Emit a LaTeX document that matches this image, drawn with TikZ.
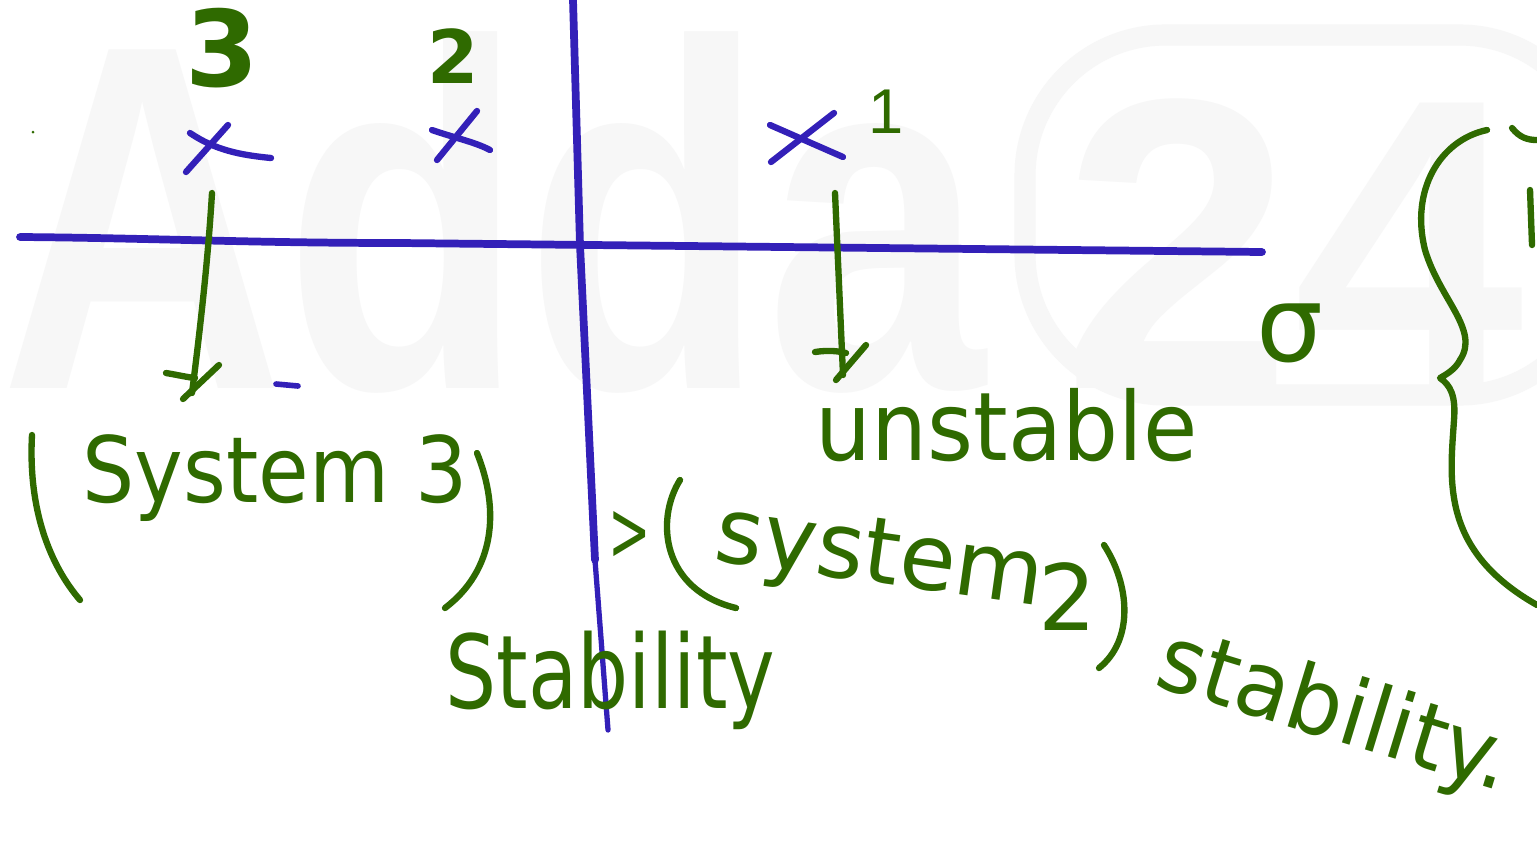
\documentclass[tikz,border=0pt]{standalone}
\usepackage{fontspec}
\setmainfont{DejaVu Sans}
\newfontfamily\wmfont{Liberation Sans}
\definecolor{ink}{HTML}{3320B8}
\definecolor{pen}{HTML}{2F6A00}
\begin{document}
\begin{tikzpicture}[x=0.01cm,y=-0.01cm,
  axisline/.style={draw=ink,line width=2.2pt,line cap=round,line join=round},
  bluestroke/.style={draw=ink,line width=1.8pt,line cap=round},
  greenstroke/.style={draw=pen,line width=1.8pt,line cap=round,line join=round},
  hand/.style={text=pen,inner sep=0pt,anchor=base west,font=\fontsize{26}{26}\selectfont},
  wm/.style={text=black!3,inner sep=0pt,font=\wmfont\bfseries\fontsize{140}{140}\selectfont}]
\useasboundingbox[fill=white] (0,0) rectangle (1537,854);
% watermark
\node[wm,xscale=0.8,anchor=base west] (wmA) at (0,388) {Adda};
\draw[black!3,line width=6pt,rounded corners=40pt] (1025,35) rectangle (1600,395);
\node[wm,anchor=base west,font=\wmfont\bfseries\fontsize{118}{118}\selectfont] (wm24) at (1062,388) {24};
% axes
\draw[axisline] (20,237) .. controls (150,238) and (250,243) .. (400,243) -- (1262,252);
\draw[axisline] (573,0) -- (580,245) -- (595,560);
\draw[draw=ink,line width=1.5pt,line cap=round] (595,560) -- (608,730);
% poles (crosses)
\draw[bluestroke] (186,172) -- (228,125);
\draw[bluestroke] (190,133) .. controls (215,150) and (240,155) .. (271,158);
\draw[bluestroke] (437,160) -- (477,111);
\draw[bluestroke] (432,130) .. controls (455,138) and (475,142) .. (490,150);
\draw[bluestroke] (771,162) -- (834,113);
\draw[bluestroke] (770,125) -- (843,157);
\draw[draw=ink,line width=1.6pt,line cap=round] (276,384) -- (298,386);
% labels of poles
\node[hand,anchor=center,font=\bfseries\fontsize{30}{30}\selectfont] (n3) at (222,48) {3};
\node[hand,anchor=center,font=\bfseries\fontsize{21}{21}\selectfont] (n2) at (453,56) {2};
\node[hand,anchor=center,font=\wmfont\fontsize{18}{18}\selectfont] (n1) at (886,112) {1};
% arrows
\coordinate (a3s) at (212,193);
\coordinate (a3e) at (192,393);
\draw[greenstroke] (a3s) .. controls (208,260) and (200,330) .. (a3e);
\draw[greenstroke] (166,373) .. controls (178,375) and (186,377) .. (195,378);
\draw[greenstroke] (219,365) -- (183,399);
\coordinate (a1s) at (835,193);
\coordinate (a1e) at (843,375);
\draw[greenstroke] (a1s) -- (a1e);
\draw[greenstroke] (815,352) .. controls (828,350) and (838,351) .. (846,353);
\draw[greenstroke] (866,345) -- (836,380);
% system 3
\draw[greenstroke] (32,435) .. controls (28,510) and (50,565) .. (80,600);
\node[hand,xscale=0.9] (sys3) at (82,502) {System 3};
\draw[greenstroke] (477,453) .. controls (500,510) and (495,570) .. (445,608);
\node[hand,xscale=0.79,font=\fontsize{29}{29}\selectfont] (stab1) at (445,708) {Stability};
% system 2
\node[hand,xscale=0.6,font=\fontsize{24}{24}\selectfont] (gt) at (608,560) {>};
\draw[greenstroke] (680,480) .. controls (655,520) and (662,590) .. (736,608);
\node[hand,rotate=-8] (sys2) at (712,560) {system};
\node[hand,font=\fontsize{26}{26}\selectfont] (sub2) at (1038,630) {2};
\draw[greenstroke] (1104,545) .. controls (1130,585) and (1134,640) .. (1099,668);
\node[hand,rotate=-17,xscale=0.96,font=\fontsize{26}{26}\selectfont] (stab2) at (1152,685) {stability.};
% unstable
\node[hand,xscale=0.93,font=\fontsize{27}{27}\selectfont] (unst) at (815,460) {unstable};
% sigma
\node[hand,anchor=center,font=\fontsize{30}{30}\selectfont] (sig) at (1290,333) {σ};
% big brace
\draw[greenstroke] (1487,130) .. controls (1440,140) and (1410,190) .. (1425,250)
  .. controls (1440,300) and (1480,330) .. (1460,360)
  .. controls (1455,370) and (1445,375) .. (1440,378)
  .. controls (1450,385) and (1456,395) .. (1454,420)
  .. controls (1450,480) and (1440,550) .. (1537,605);
% partial strokes at right edge
\draw[greenstroke] (1512,128) .. controls (1520,138) and (1528,140) .. (1537,140);
\draw[greenstroke] (1530,190) -- (1532,245);
\fill[pen] (33,132) circle (1.5);
\end{tikzpicture}
\end{document}
